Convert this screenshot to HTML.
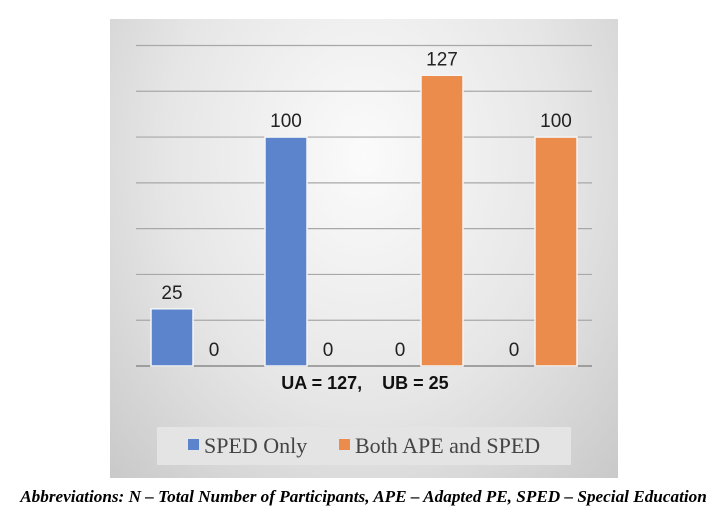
<!DOCTYPE html>
<html><head><meta charset="utf-8"><style>
body{margin:0;background:#fff;width:727px;height:526px;overflow:hidden;position:relative;font-family:"Liberation Sans",sans-serif}
#panel{position:absolute;left:110px;top:19px;width:508px;height:459px;background:radial-gradient(ellipse at 50% 30%,#fbfbfb 0%,#e6e6e6 55%,#c9c9c9 100%)}
#cap{position:absolute;left:0;width:727px;top:487px;text-align:center;font:italic bold 17.2px "Liberation Serif",serif;color:#000;white-space:nowrap}
</style></head><body>
<div id="panel"></div>
<svg id="chart" width="727" height="526" style="position:absolute;left:0;top:0"></svg>
<div id="cap">Abbreviations: N – Total Number of Participants, APE – Adapted PE, SPED – Special Education</div>
<script>
const categories=["G1","G2","G3","G4"];
const spedOnly=[25,100,0,0];
const bothApeSped=[0,0,127,100];
const gridTicks=[0,20,40,60,80,100,120,140];
const svg=document.getElementById('chart');
const NS='http://www.w3.org/2000/svg';
const x0=136,x1=592,yBase=366,yTop=45.5,yMax=140;
const y=v=>yBase-(v/yMax)*(yBase-yTop);
const gw=(x1-x0)/categories.length,bw=42,pad=(gw-2*bw)/2;
function mk(t,a){const e=document.createElementNS(NS,t);for(const k in a)e.setAttribute(k,a[k]);svg.appendChild(e);return e;}
gridTicks.forEach(t=>{const l=mk('line',{x1:x0,x2:x1,y1:y(t),y2:y(t),stroke:t===0?'#8a8a8a':'#a8a8a8','stroke-width':t===0?1.5:1.2});

});
const series=[{d:spedOnly,c:'#5b84cc',n:'sped-only'},{d:bothApeSped,c:'#ec8c4c',n:'both-ape-sped'}];
categories.forEach((c,i)=>{series.forEach((s,j)=>{const bx=x0+i*gw+pad+j*bw;const v=s.d[i];
if(v>0){const r=mk('rect',{x:bx,y:y(v),width:bw,height:yBase-y(v),fill:s.c,stroke:'#f4f4f4','stroke-width':1.5});

}
const t=mk('text',{x:bx+bw/2,y:y(v)-10,'text-anchor':'middle','font-size':19,fill:'#222'});t.textContent=v;

});});
const ua=mk('text',{x:365,y:389,'text-anchor':'middle','font-size':18,'font-weight':'bold',fill:'#111',style:'white-space:pre'});ua.textContent='UA = 127,    UB = 25';


const lg=mk('rect',{x:157,y:427,width:414,height:38,fill:'#e4e4e4'});


[[188,'#5b84cc','SPED Only',204,'legend-entry-sped-only'],[339,'#ec8c4c','Both APE and SPED',355,'legend-entry-both']].forEach(a=>{
const r=mk('rect',{x:a[0],y:439,width:11,height:11,fill:a[1]});


const t=mk('text',{x:a[3],y:453,'font-size':22,'font-family':'Liberation Serif, serif',fill:'#444'});t.textContent=a[2];

});
</script>
</body></html>
